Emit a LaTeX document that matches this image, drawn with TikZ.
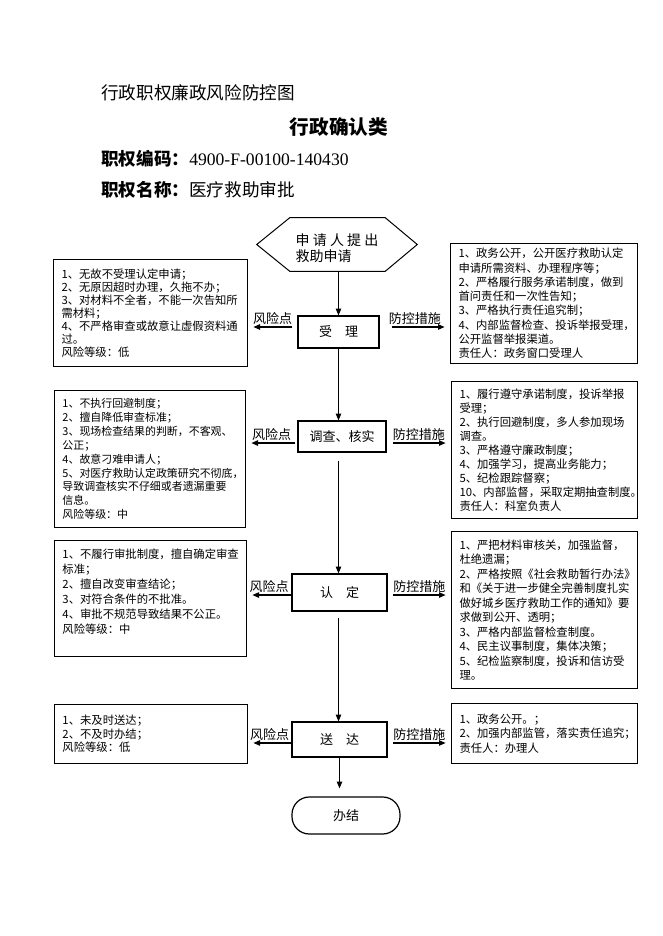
\documentclass[tikz,border=0pt]{standalone}
\usepackage{fontspec}
\setmainfont{Noto Sans CJK SC}
\newfontfamily\numfont{Liberation Serif}
\usetikzlibrary{arrows.meta}

\begin{document}
\begin{tikzpicture}[
  x=0.75pt, y=-0.75pt,
  % --- node styles ---
  procbox/.style={draw, line width=0.9pt, inner sep=0pt,
                  font=\fontsize{9.75pt}{11pt}\selectfont},
  notebox/.style={draw, line width=0.75pt, anchor=north west,
                  inner xsep=6pt, inner ysep=2pt, align=left,
                  font=\fontsize{8.5pt}{#1}\selectfont},
  flow/.style={-{Triangle[length=5pt,width=4pt]}, line width=0.75pt},
  side/.style={-{Triangle[length=5pt,width=4pt]}, line width=1pt,
               shorten >=4pt},
  lbl/.style={font=\fontsize{9.75pt}{11pt}\selectfont, inner sep=1pt},
  head/.style={anchor=west, inner sep=0pt,
               font=\fontsize{13.2pt}{15pt}\selectfont},
]
  % --- page ---
  \path[fill=white, use as bounding box] (0,0) rectangle (662,936);

  % --- Titles ---
  \node[head] (title) at (101,93) {行政职权廉政风险防控图};
  \node[inner sep=0pt, font=\fontsize{14.75pt}{16pt}\selectfont\bfseries]
    (kind) at (339,127) {行政确认类};
  \node[head] (code) at (101,159)
    {\textbf{职权编码：}{\numfont 4900-F-00100-140430}};
  \node[head] (name) at (101,190) {\textbf{职权名称：}医疗救助审批};

  % --- Start (hexagon) ---
  \node[minimum width=120pt, minimum height=39.75pt, inner sep=0pt,
        text height=27pt, align=left,
        font=\fontsize{10.5pt}{12.3pt}\selectfont]
    (apply) at (337,244.5) {申 请 人 提 出\\救助申请};
  \draw[line width=0.75pt] (apply.west) -- ([xshift=24.75pt]apply.north west)
    -- ([xshift=-24pt]apply.north east) -- (apply.east)
    -- ([xshift=-24pt]apply.south east) -- ([xshift=24.75pt]apply.south west)
    -- cycle;

  % --- Process steps ---
  \node[procbox, minimum width=60.75pt, minimum height=24pt]
    (shouli) at (338.5,332) {受\quad 理};
  \node[procbox, minimum width=66pt, minimum height=23.25pt]
    (diaocha) at (342,436.5) {调查、核实};
  \node[procbox, minimum width=71.25pt, minimum height=27.75pt]
    (rending) at (339.5,592.5) {认\quad 定};
  \node[procbox, minimum width=71.25pt, minimum height=26.25pt]
    (songda) at (339.5,739.5) {送\quad 达};
  \node[procbox, rounded corners=13pt, minimum width=81pt,
        minimum height=27.75pt]
    (banjie) at (346,815.5) {办结};

  % --- Risk points (left) ---
  \node[notebox=9.75pt, text width=133.5pt, minimum height=80.25pt]
    (risk1) at (53,259) {1、无故不受理认定申请；\\2、无原因超时办理，久拖不办；\\
    3、对材料不全者，不能一次告知所\\需材料；\\4、不严格审查或故意让虚假资料通\\
    过。\\风险等级：低};
  \node[notebox=10.4pt, font=\fontsize{8.2pt}{10.4pt}\selectfont,
        text width=131.25pt, minimum height=102.75pt]
    (risk2) at (54,390) {1、不执行回避制度；\\2、擅自降低审查标准；\\
    3、现场检查结果的判断，不客观、\\公正；\\4、故意刁难申请人；\\
    5、对医疗救助认定政策研究不彻底，\\导致调查核实不仔细或者遗漏重要\\
    信息。\\风险等级：中};
  \node[notebox=11.25pt, text width=132pt, minimum height=87pt]
    (risk3) at (54,540) {1、不履行审批制度，擅自确定审查\\标准；\\
    2、擅自改变审查结论；\\3、对符合条件的不批准。\\
    4、审批不规范导致结果不公正。\\风险等级：中\\ \mbox{}};
  \node[notebox=10.1pt, text width=132.75pt, minimum height=44.25pt]
    (risk4) at (54,704) {1、未及时送达；\\2、不及时办结；\\风险等级：低};

  % --- Control measures (right) ---
  \node[notebox=10.7pt, text width=128.25pt, minimum height=90pt]
    (ctrl1) at (450,243) {1、政务公开，公开医疗救助认定\\申请所需资料、办理程序等；\\
    2、严格履行服务承诺制度，做到\\首问责任和一次性告知；\\
    3、严格执行责任追究制；\\4、内部监督检查、投诉举报受理，\\
    公开监督举报渠道。\\责任人：政务窗口受理人};
  \node[notebox=10.5pt, text width=127.5pt, minimum height=102.75pt]
    (ctrl2) at (451,381) {1、履行遵守承诺制度，投诉举报\\受理；\\
    2、执行回避制度，多人参加现场\\调查。\\3、严格遵守廉政制度；\\
    4、加强学习，提高业务能力；\\5、纪检跟踪督察；\\
    10、内部监督，采取定期抽查制度。\\责任人：科室负责人};
  \node[notebox=10.9pt, text width=127.5pt, minimum height=117.75pt]
    (ctrl3) at (451,531) {1、严把材料审核关，加强监督，\\杜绝遗漏；\\
    2、严格按照《社会救助暂行办法》\\和《关于进一步健全完善制度扎实\\
    做好城乡医疗救助工作的通知》要\\求做到公开、透明；\\
    3、严格内部监督检查制度。\\4、民主议事制度，集体决策；\\
    5、纪检监察制度，投诉和信访受\\理。};
  \node[notebox=10.9pt, text width=127.5pt, minimum height=45pt]
    (ctrl4) at (451,703) {1、政务公开。；\\2、加强内部监管，落实责任追究；\\
    责任人：办理人};

  % --- Main flow ---
  \draw[flow] (apply.south -| shouli.south) -- (shouli.north);
  \draw[flow] (shouli.south) -- (diaocha.north -| shouli.south);
  \draw[flow, shorten <=6pt] (diaocha.south -| shouli.south)
    -- (rending.north -| shouli.south);
  \draw[flow, shorten <=5pt] (rending.south -| shouli.south)
    -- (songda.north -| shouli.south);
  \draw[flow, shorten >=6pt] (songda.south) -- (songda.south |- banjie.north);

  % --- Side arrows ---
  \draw[side, shorten <=4pt] ([yshift=3.75pt]shouli.west)
    -- ([yshift=3.75pt]shouli.west -| risk1.east)
    node[lbl, midway, above] (rp1) {风险点};
  \draw[side, shorten <=9pt] ([yshift=3.75pt]shouli.east)
    -- ([yshift=3.75pt]shouli.east -| ctrl1.west)
    node[lbl, midway, above] (cm1) {防控措施};
  \draw[side, shorten <=2pt] ([yshift=-4.9pt]diaocha.west)
    -- ([yshift=-4.9pt]diaocha.west -| risk2.east)
    node[lbl, midway, above] (rp2) {风险点};
  \draw[side, shorten <=5pt] ([yshift=-4.9pt]diaocha.east)
    -- ([yshift=-4.9pt]diaocha.east -| ctrl2.west)
    node[lbl, midway, above] (cm2) {防控措施};
  \draw[side] ([yshift=-1.9pt]rending.west)
    -- ([yshift=-1.9pt]rending.west -| risk3.east)
    node[lbl, midway, above] (rp3) {风险点};
  \draw[side, shorten <=4pt] ([yshift=-1.9pt]rending.east)
    -- ([yshift=-1.9pt]rending.east -| ctrl3.west)
    node[lbl, midway, above] (cm3) {防控措施};
  \draw[side] ([yshift=-2.6pt]songda.west)
    -- ([yshift=-2.6pt]songda.west -| risk4.east)
    node[lbl, midway, above] (rp4) {风险点};
  \draw[side, shorten <=4pt] ([yshift=-2.6pt]songda.east)
    -- ([yshift=-2.6pt]songda.east -| ctrl4.west)
    node[lbl, midway, above] (cm4) {防控措施};
\end{tikzpicture}
\end{document}
